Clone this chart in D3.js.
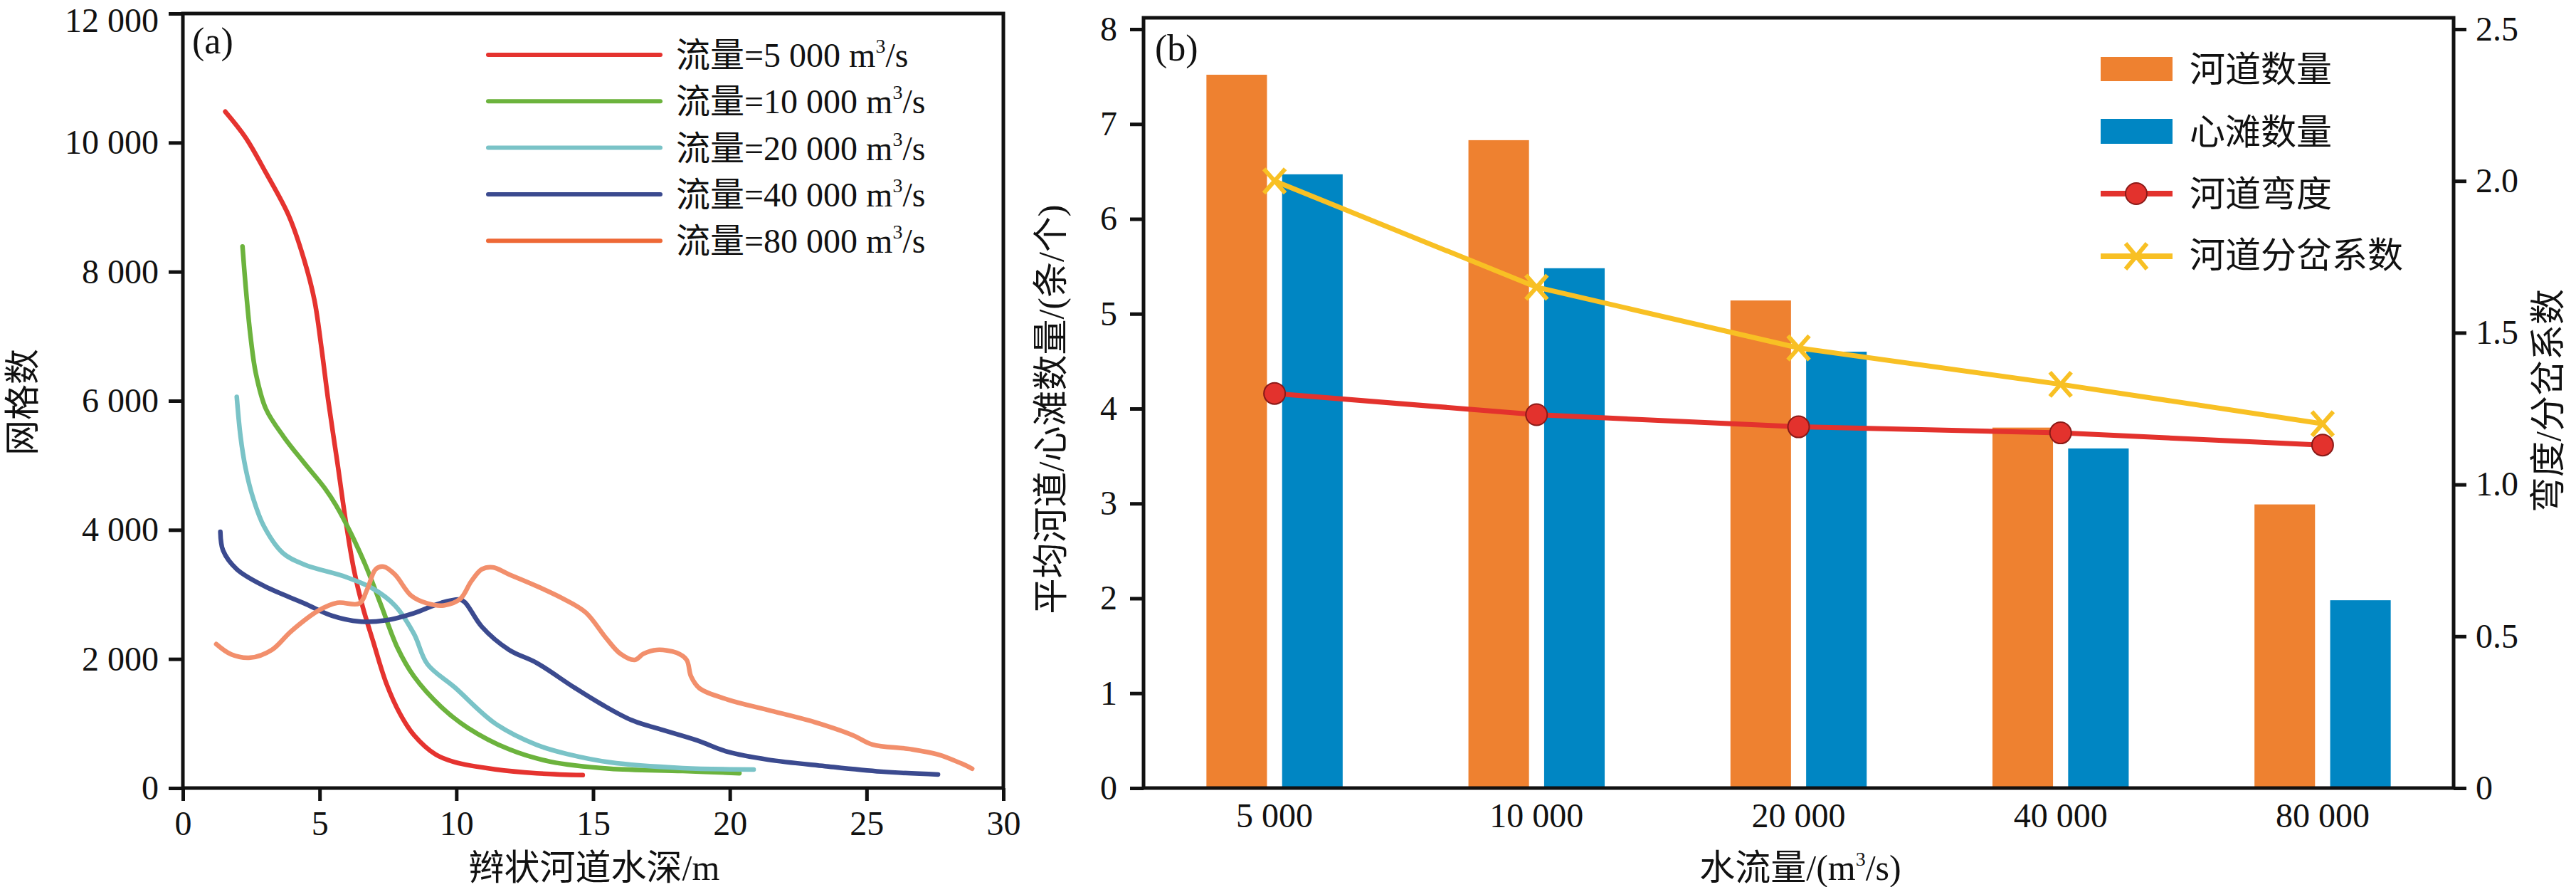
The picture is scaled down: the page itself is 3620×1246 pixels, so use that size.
<!DOCTYPE html>
<html>
<head>
<meta charset="utf-8">
<script src="https://d3js.org/d3.v7.min.js"></script>
<style>
  body { margin: 0; background: #fff; }
  text { font-family: "Liberation Serif", "Noto Sans CJK SC", serif; fill: #111; }
</style>
</head>
<body>
<div id="chart"></div>
<script>
// ---------- panel (a): water depth (m) vs. grid cell count ----------
var depth5k  = [1.55, 2.29, 3.04, 3.88, 4.43, 4.81, 5.07, 5.31, 5.65, 5.96, 6.25, 6.56, 6.95, 7.44, 7.94, 8.45, 9.24, 9.94, 11.42, 12.93, 14.62];
var count5k  = [10480, 10080, 9530, 8860, 8190, 7560, 6810, 6020, 5040, 4120, 3390, 2830, 2280, 1620, 1150, 820, 520, 400, 290, 230, 200];
var depth10k = [2.18, 2.29, 2.47, 2.67, 3.04, 3.69, 4.43, 5.18, 5.6, 6.15, 6.74, 7.25, 7.85, 8.45, 9.44, 10.43, 11.93, 13.43, 15.6, 18.27, 20.35];
var count10k = [8390, 7800, 7010, 6420, 5870, 5440, 5040, 4650, 4380, 3940, 3390, 2830, 2170, 1730, 1260, 930, 600, 410, 300, 265, 230];
var depth20k = [1.97, 2.11, 2.29, 2.57, 2.97, 3.66, 4.45, 5.96, 6.95, 7.75, 8.45, 8.94, 9.94, 11.42, 12.93, 14.13, 15.6, 18.27, 20.87];
var count20k = [6060, 5440, 4960, 4490, 4050, 3640, 3460, 3270, 3090, 2830, 2390, 1920, 1560, 1000, 670, 520, 400, 310, 287];
var depth40k = [1.37, 1.47, 1.97, 2.97, 4.45, 5.45, 6.45, 7.44, 8.45, 9.45, 10.14, 10.33, 10.93, 11.93, 12.93, 14.3, 15.3, 16.42, 17.54, 18.79, 19.93, 21.39, 23.47, 25.53, 27.61];
var count40k = [3970, 3680, 3390, 3130, 2860, 2670, 2580, 2600, 2710, 2870, 2920, 2870, 2500, 2140, 1940, 1560, 1300, 1050, 900, 740, 560, 440, 340, 255, 210];
var depth80k = [1.22, 1.77, 2.47, 3.25, 3.96, 4.96, 5.65, 6.45, 6.75, 7.05, 7.34, 7.75, 8.35, 8.94, 9.54, 10.14, 10.54, 10.93, 11.33, 11.93, 12.93, 13.92, 14.73, 15.48, 16.0, 16.52, 16.84, 17.33, 18.06, 18.42, 18.58, 18.89, 19.93, 21.39, 22.95, 24.49, 25.21, 26.57, 27.61, 28.44, 28.86];
var count80k = [2230, 2070, 2020, 2140, 2430, 2750, 2870, 2860, 3090, 3390, 3430, 3310, 2980, 2860, 2830, 2930, 3200, 3390, 3420, 3310, 3130, 2930, 2720, 2320, 2080, 1985, 2080, 2140, 2095, 1985, 1730, 1545, 1370, 1210, 1040, 820, 675, 605, 520, 385, 300];
var flowNames = ["5 000", "10 000", "20 000", "40 000", "80 000"];

// ---------- panel (b): metrics per discharge ----------
var discharge    = ["5 000", "10 000", "20 000", "40 000", "80 000"];
var channelCount = [7.52, 6.83, 5.14, 3.80, 2.99];
var barCount     = [6.47, 5.48, 4.60, 3.58, 1.98];
var sinuosity    = [1.30, 1.23, 1.19, 1.17, 1.13];
var braiding     = [2.00, 1.65, 1.45, 1.33, 1.20];

var curveColors  = ["#E5332F", "#6CB33D", "#7AC3C7", "#3B4A8F", "#F28F6C"];
var legendColors = ["#E5332F", "#6CB33D", "#7AC3C7", "#3B4A8F", "#EE6836"];

var W = 3620, H = 1246;
var svg = d3.select("#chart").append("svg")
  .attr("width", W).attr("height", H)
  .style("background", "#fff");

var fmt = d3.formatLocale({decimal: ".", thousands: " ", grouping: [3], currency: ["", ""]}).format(",");

function styleAxis(g) {
  g.select(".domain").remove();
  g.selectAll(".tick line").attr("stroke", "#111").attr("stroke-width", 5);
  g.selectAll(".tick text").style("font-size", "48px").attr("fill", "#111");
}

// ================= panel (a) =================
var xA = d3.scaleLinear().domain([0, 30]).range([257, 1410]);
var yA = d3.scaleLinear().domain([0, 12000]).range([1107, 19]);

var series = [
  {x: depth5k,  y: count5k},
  {x: depth10k, y: count10k},
  {x: depth20k, y: count20k},
  {x: depth40k, y: count40k},
  {x: depth80k, y: count80k}
];

var lineA = d3.line()
  .x(function(d) { return xA(d[0]); })
  .y(function(d) { return yA(d[1]); })
  .curve(d3.curveCatmullRom.alpha(0.5));

svg.append("g").selectAll("path")
  .data(series)
  .enter().append("path")
    .attr("d", function(s) { return lineA(d3.zip(s.x, s.y)); })
    .attr("fill", "none")
    .attr("stroke", function(s, i) { return curveColors[i]; })
    .attr("stroke-width", 6.5)
    .attr("stroke-linecap", "round")
    .attr("stroke-linejoin", "round");

svg.append("g")
  .attr("transform", "translate(0," + 1107 + ")")
  .call(d3.axisBottom(xA).tickValues(d3.range(0, 31, 5)).tickSize(18).tickSizeOuter(0).tickPadding(14))
  .call(styleAxis);

var yAxisA = svg.append("g")
  .attr("transform", "translate(" + 257 + ",0)")
  .call(d3.axisLeft(yA).tickValues(d3.range(0, 12001, 2000)).tickFormat(fmt).tickSize(20).tickSizeOuter(0).tickPadding(14))
  .call(styleAxis);
// keep the top label inside the picture
yAxisA.selectAll(".tick text").filter(function(d) { return d === 12000; }).attr("y", 10);

svg.append("rect")
  .attr("x", xA(0)).attr("y", yA(12000))
  .attr("width", xA(30) - xA(0)).attr("height", yA(0) - yA(12000))
  .attr("fill", "none").attr("stroke", "#111").attr("stroke-width", 5);

svg.append("text").attr("x", 270).attr("y", 75).style("font-size", "52px").text("(a)");

// legend (a)
var legA = svg.append("g").selectAll("g")
  .data(flowNames)
  .enter().append("g")
    .attr("transform", function(d, i) { return "translate(0," + (77 + i * 65.3) + ")"; });
legA.append("line")
  .attr("x1", 686).attr("x2", 928)
  .attr("stroke", function(d, i) { return legendColors[i]; })
  .attr("stroke-width", 6).attr("stroke-linecap", "round");
var legAText = legA.append("text")
  .attr("x", 950).attr("y", 17)
  .style("font-size", "48px");
legAText.append("tspan").text(function(d) { return "流量=" + d + " m"; });
legAText.append("tspan").attr("dy", -20).style("font-size", "28px").text("3");
legAText.append("tspan").attr("dy", 20).text("/s");

// axis titles (a)
svg.append("text")
  .attr("x", 835).attr("y", 1236)
  .attr("text-anchor", "middle")
  .style("font-size", "50px")
  .text("辫状河道水深/m");
svg.append("text")
  .attr("transform", "translate(32,565) rotate(-90)")
  .attr("text-anchor", "middle")
  .attr("dominant-baseline", "central")
  .style("font-size", "50px")
  .text("网格数");

// ================= panel (b) =================
var xB = d3.scaleBand().domain(discharge).range([1607, 3448]).paddingInner(0.48).paddingOuter(0.24);
var xSub = d3.scaleBand().domain(["channel", "bar"]).range([0, xB.bandwidth()]).paddingInner(0.2);
var yB = d3.scaleLinear().domain([0, 8]).range([1107, 41]);
var yR = d3.scaleLinear().domain([0, 2.5]).range([1107, 41]);

var barGroups = svg.append("g").selectAll("g")
  .data(discharge)
  .enter().append("g")
    .attr("transform", function(d) { return "translate(" + xB(d) + ",0)"; });
barGroups.append("rect")
  .attr("x", xSub("channel")).attr("width", xSub.bandwidth())
  .attr("y", function(d, i) { return yB(channelCount[i]); })
  .attr("height", function(d, i) { return yB(0) - yB(channelCount[i]); })
  .attr("fill", "#EE8130");
barGroups.append("rect")
  .attr("x", xSub("bar")).attr("width", xSub.bandwidth())
  .attr("y", function(d, i) { return yB(barCount[i]); })
  .attr("height", function(d, i) { return yB(0) - yB(barCount[i]); })
  .attr("fill", "#0086C3");

function cx(d) { return xB(d) + xB.bandwidth() / 2; }

var lineB = d3.line()
  .x(function(d) { return cx(d[0]); })
  .y(function(d) { return yR(d[1]); });

// braiding index (yellow, x markers)
svg.append("path")
  .attr("d", lineB(d3.zip(discharge, braiding)))
  .attr("fill", "none").attr("stroke", "#F8C024").attr("stroke-width", 7);
var xMark = svg.append("g").selectAll("g")
  .data(d3.zip(discharge, braiding))
  .enter().append("g")
    .attr("transform", function(d) { return "translate(" + cx(d[0]) + "," + yR(d[1]) + ")"; });
xMark.append("path")
  .attr("d", "M-15,-17L15,17M-15,17L15,-17")
  .attr("stroke", "#F8C024").attr("stroke-width", 6);

// sinuosity (red, circle markers)
svg.append("path")
  .attr("d", lineB(d3.zip(discharge, sinuosity)))
  .attr("fill", "none").attr("stroke", "#E3322D").attr("stroke-width", 7);
svg.append("g").selectAll("circle")
  .data(d3.zip(discharge, sinuosity))
  .enter().append("circle")
    .attr("cx", function(d) { return cx(d[0]); })
    .attr("cy", function(d) { return yR(d[1]); })
    .attr("r", 15)
    .attr("fill", "#E3322D").attr("stroke", "#8A1A18").attr("stroke-width", 2);

// axes (b)
svg.append("g")
  .attr("transform", "translate(" + 1607 + ",0)")
  .call(d3.axisLeft(yB).ticks(8).tickSize(19).tickSizeOuter(0).tickPadding(18))
  .call(styleAxis);
svg.append("g")
  .attr("transform", "translate(" + 3448 + ",0)")
  .call(d3.axisRight(yR).tickValues([0, 0.5, 1, 1.5, 2, 2.5]).tickFormat(function(d) { return d === 0 ? "0" : d3.format(".1f")(d); }).tickSize(18).tickSizeOuter(0).tickPadding(13))
  .call(styleAxis);
svg.append("g")
  .attr("transform", "translate(0," + 1107 + ")")
  .call(d3.axisBottom(xB).tickSize(0).tickPadding(21))
  .call(styleAxis);

svg.append("rect")
  .attr("x", 1607).attr("y", 25)
  .attr("width", 3448 - 1607).attr("height", 1107 - 25)
  .attr("fill", "none").attr("stroke", "#111").attr("stroke-width", 5);

svg.append("text").attr("x", 1623).attr("y", 85).style("font-size", "52px").text("(b)");

// legend (b)
var legB = svg.append("g").attr("transform", "translate(2952,0)");
legB.append("rect").attr("x", 0).attr("y", 80).attr("width", 101).attr("height", 34).attr("fill", "#EE8130");
legB.append("rect").attr("x", 0).attr("y", 167).attr("width", 101).attr("height", 35).attr("fill", "#0086C3");
legB.append("line").attr("x1", 0).attr("x2", 101).attr("y1", 272).attr("y2", 272).attr("stroke", "#E3322D").attr("stroke-width", 8);
legB.append("circle").attr("cx", 50).attr("cy", 272).attr("r", 15).attr("fill", "#E3322D").attr("stroke", "#8A1A18").attr("stroke-width", 2);
legB.append("line").attr("x1", 0).attr("x2", 101).attr("y1", 360).attr("y2", 360).attr("stroke", "#F8C024").attr("stroke-width", 8);
legB.append("path").attr("d", "M35,342L65,378M35,378L65,342").attr("stroke", "#F8C024").attr("stroke-width", 6);
var legBNames = ["河道数量", "心滩数量", "河道弯度", "河道分岔系数"];
var legBY = [97, 185, 272, 358];
legB.selectAll("text.lb")
  .data(legBNames)
  .enter().append("text")
    .attr("class", "lb")
    .attr("x", 125)
    .attr("y", function(d, i) { return legBY[i] + 18; })
    .style("font-size", "50px")
    .text(function(d) { return d; });

// axis titles (b)
var xt = svg.append("text")
  .attr("x", 2530).attr("y", 1236)
  .attr("text-anchor", "middle")
  .style("font-size", "50px");
xt.append("tspan").text("水流量/(m");
xt.append("tspan").attr("dy", -20).style("font-size", "28px").text("3");
xt.append("tspan").attr("dy", 20).text("/s)");

svg.append("text")
  .attr("transform", "translate(1494,575) rotate(-90)")
  .attr("text-anchor", "middle")
  .style("font-size", "50px")
  .text("平均河道/心滩数量/(条/个)");
svg.append("text")
  .attr("transform", "translate(3598,563) rotate(-90)")
  .attr("text-anchor", "middle")
  .style("font-size", "50px")
  .text("弯度/分岔系数");
</script>
</body>
</html>
